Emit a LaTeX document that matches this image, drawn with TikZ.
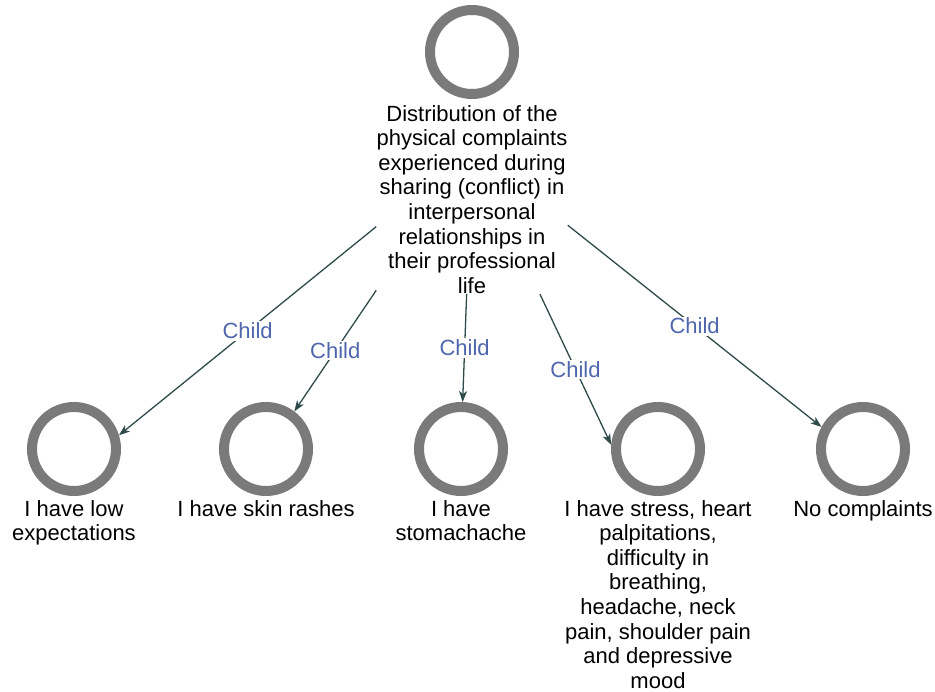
\documentclass[tikz,border=0pt]{standalone}
\usepackage{fontspec}
\setmainfont{Liberation Sans}
\usetikzlibrary{positioning,fit,arrows.meta}
\definecolor{ringgray}{RGB}{122,122,122}
\definecolor{edgegray}{RGB}{47,74,74}
\definecolor{childblue}{RGB}{78,102,172}
\begin{document}
\begin{tikzpicture}[x=1pt, y=1pt, >={Stealth[length=11pt,width=8pt,inset=3pt]},
    ring/.style={draw=ringgray, circle, line width=10pt, minimum size=84pt, inner sep=0pt},
    caption/.style={align=center, inner sep=0pt, font=\fontsize{22}{24.6}\selectfont},
    edge/.style={->, draw=edgegray, line width=1.3pt},
    child/.style={fill=white, text=childblue, inner sep=1.5pt, font=\fontsize{22}{24.6}\selectfont}]
    \useasboundingbox (0,0) rectangle (935,-692);

    % oberer Knoten
    \node[ring] (hub) at (472,-52) {};
    \node[caption, below=6pt of hub] (hubtext) {Distribution of the\\physical complaints\\experienced during\\sharing (conflict) in\\interpersonal\\relationships in\\their professional\\life};
    \node[fit=(hub)(hubtext), inner sep=0pt] (top) {};

    % untere Knoten
    \node[ring] (low) at (74,-449) {};
    \node[caption, below=4pt of low] (lowtext) {I have low\\expectations};
    \node[ring] (skin) at (266,-449) {};
    \node[caption, below=4pt of skin] (skintext) {I have skin rashes};
    \node[ring] (stomach) at (461,-449) {};
    \node[caption, below=4pt of stomach] (stomachtext) {I have\\stomachache};
    \node[ring] (stress) at (658,-449) {};
    \node[caption, below=4pt of stress] (stresstext) {I have stress, heart\\palpitations,\\difficulty in\\breathing,\\headache, neck\\pain, shoulder pain\\and depressive\\mood};
    \node[ring] (none) at (863,-449) {};
    \node[caption, below=4pt of none] (nonetext) {No complaints};

    % Kanten
    \draw[edge] (top) -- node[child] {Child} (low.17);
    \draw[edge] (top) -- node[child] {Child} (skin.53);
    \draw[edge] (top) -- node[child] {Child} (stomach.88);
    \draw[edge] (top) -- node[child] {Child} (stress.175);
    \draw[edge] (top) -- node[child] {Child} (none.152);
\end{tikzpicture}
\end{document}
